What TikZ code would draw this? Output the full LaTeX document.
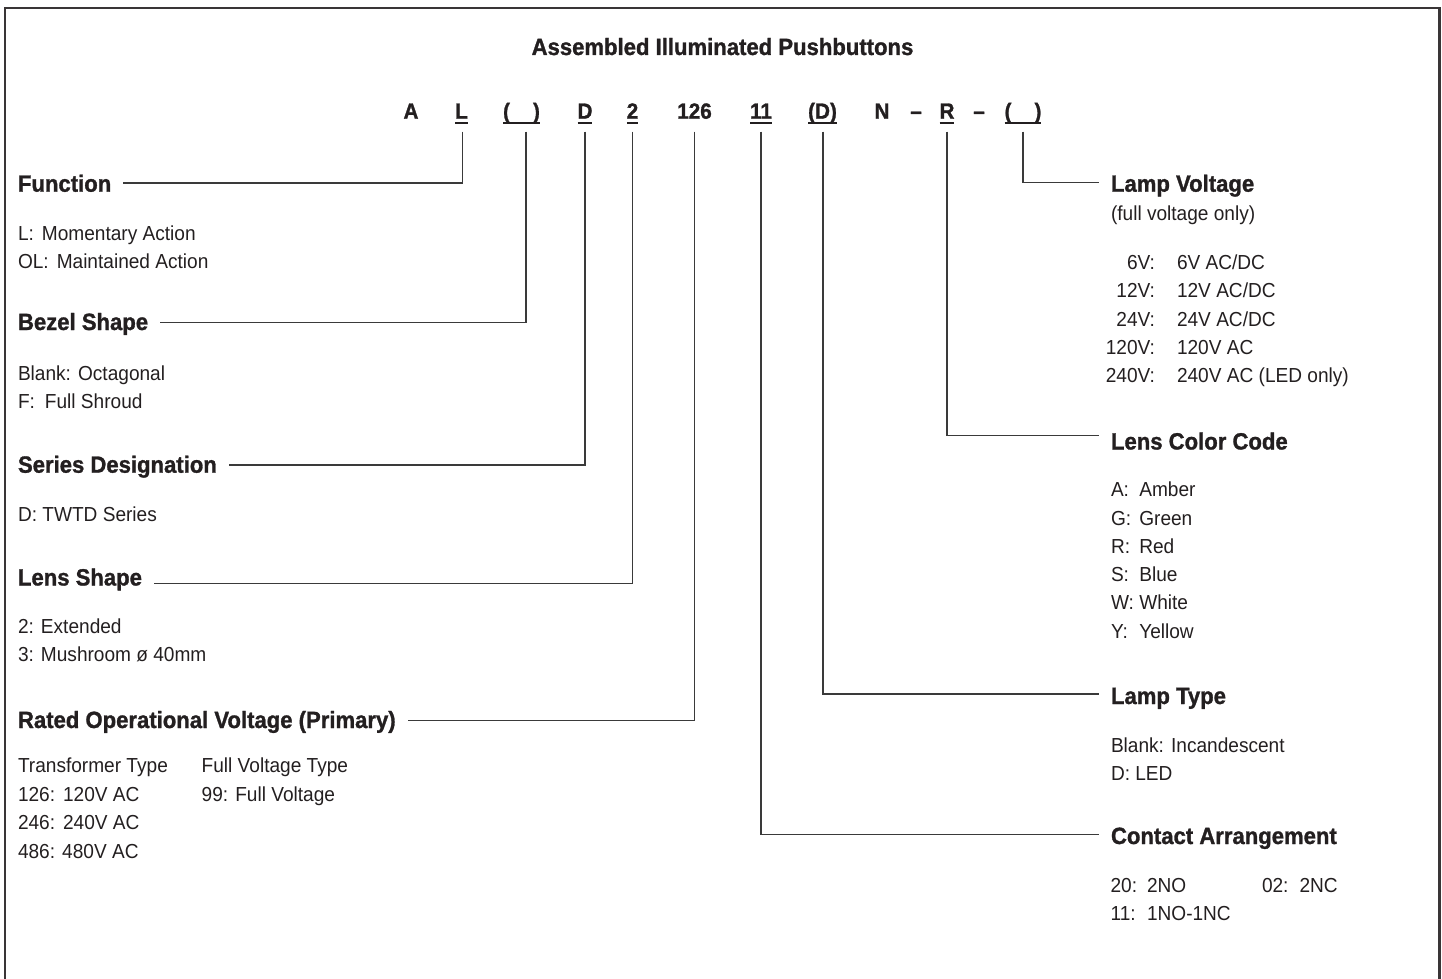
\documentclass[tikz,border=0pt]{standalone}
\usepackage{fontspec}
\setmainfont{Liberation Sans}[FakeStretch=0.94,BoldFeatures={FakeBold=1.2}]
\definecolor{ink}{HTML}{231F20}
\definecolor{rule}{HTML}{3A3A3A}
\begin{document}
\begin{tikzpicture}[x=1pt,y=-1pt,
  every node/.style={inner sep=0pt,outer sep=0pt,text=ink},
  hd/.style={font=\fontsize{23.5}{28}\selectfont\bfseries,anchor=base west},
  bd/.style={font=\fontsize{20.3}{28}\selectfont,anchor=base west},
  bdr/.style={font=\fontsize{20.3}{28}\selectfont,anchor=base east},
  cd/.style={font=\fontsize{22}{26}\selectfont\bfseries,anchor=base},
  ln/.style={line width=1.4pt,draw=rule},
  ul/.style={line width=1.7pt,draw=ink},
  frame/.style={line width=2.3pt,draw=ink!90}]
\useasboundingbox (0,0) rectangle (1442,979);
% frame (open at the bottom edge of the page)
\draw[frame] (5,990) -- (5,8.3) -- (1439.5,8.3) -- (1439.5,990);
% title
\node[hd,anchor=base] (title) at (722.5,55) {Assembled Illuminated Pushbuttons};
% code row
\node[cd] (cA) at (411,118.7) {A};
\node[cd] (cL) at (461.5,118.7) {L};
\node[cd] (cB) at (521.5,118.7) {(\hspace{23pt})};
\node[cd] (cD) at (585,118.7) {D};
\node[cd] (c2) at (632.5,118.7) {2};
\node[cd] (cV1) at (694.5,118.7) {126};
\node[cd] (c11) at (761,118.7) {11};
\node[cd] (cLD) at (822.5,118.7) {(D)};
\node[cd] (cN) at (882,118.7) {N};
\node[cd] (cd1) at (916,118.7) {–};
\node[cd] (cR) at (947,118.7) {R};
\node[cd] (cd2) at (979,118.7) {–};
\node[cd] (cLV) at (1023,118.7) {(\hspace{23pt})};
\foreach \n in {cL,cB,cD,c2,c11,cLD,cR,cLV}
  \draw[ul] ([yshift=-4.6pt]\n.base west) -- ([yshift=-4.6pt]\n.base east);
% left headings
\node[hd] (fn) at (18,191.7) {Function};
\node[hd] (bz) at (18,330) {Bezel Shape};
\node[hd] (sd) at (18,472.7) {Series Designation};
\node[hd] (ls) at (18,585.5) {Lens Shape};
\node[hd] (rv) at (18,728) {Rated Operational Voltage (Primary)};
% left bodies
\node[bd] (fn1) at (18,240) {L:\hspace{8pt}Momentary Action};
\node[bd] (fn2) at (18,268.5) {OL:\hspace{8pt}Maintained Action};
\node[bd] (bz1) at (18,380) {Blank: Octagonal};
\node[bd] (bz2) at (18,408.5) {F:\hspace{10pt}Full Shroud};
\node[bd] (sd1) at (18,521) {D: TWTD Series};
\node[bd] (ls1) at (18,633) {2: Extended};
\node[bd] (ls2) at (18,661.5) {3: Mushroom ø 40mm};
\node[bd] (rv1) at (18,772.5) {Transformer Type};
\node[bd] (rv2) at (18,801) {126:\hspace{8pt}120V AC};
\node[bd] (rv3) at (18,829.5) {246:\hspace{8pt}240V AC};
\node[bd] (rv4) at (18,858) {486: 480V AC};
\node[bd] (rv5) at (201.7,772.5) {Full Voltage Type};
\node[bd] (rv6) at (201.7,801) {99: Full Voltage};
% right headings
\node[hd] (lv) at (1111,191.7) {Lamp Voltage};
\node[hd] (lc) at (1111,449.5) {Lens Color Code};
\node[hd] (lt) at (1111,704) {Lamp Type};
\node[hd] (ca) at (1111,844) {Contact Arrangement};
% lamp voltage list
\node[bd] (lv0) at (1111,220) {(full voltage only)};
\foreach \k/\v [count=\i from 0] in {6V:/6V AC\slash DC,12V:/12V AC\slash DC,24V:/24V AC\slash DC,120V:/120V AC,240V:/240V AC (LED only)}{
  \node[bdr] (lvk\i) at (1155,269.3+28.35*\i) {\k};
  \node[bd] (lvv\i) at (1177,269.3+28.35*\i) {\v};
}
% lens colour list
\foreach \k/\v [count=\i from 0] in {A:/Amber,G:/Green,R:/Red,S:/Blue,W:/White,Y:/Yellow}{
  \node[bd] (lck\i) at (1111,496.7+28.3*\i) {\k};
  \node[bd] (lcv\i) at (1139.3,496.7+28.3*\i) {\v};
}
% lamp type
\node[bd] (lt1) at (1111,752.3) {Blank: Incandescent};
\node[bd] (lt2) at (1111,780.5) {D: LED};
% contact arrangement
\node[bd] (ca1) at (1110.6,892.3) {20:};
\node[bd] (ca2) at (1147,892.3) {2NO};
\node[bd] (ca3) at (1262,892.3) {02:};
\node[bd] (ca4) at (1299.5,892.3) {2NC};
\node[bd] (ca5) at (1110.6,920.7) {11:};
\node[bd] (ca6) at (1147,920.7) {1NO-1NC};
% connectors, left
\draw[ln] ([xshift=1pt,yshift=-13pt]cL.base) |- ([xshift=12pt,yshift=8.7pt]fn.base east);
\draw[ln] ([xshift=4.5pt,yshift=-13pt]cB.base) |- ([xshift=12pt,yshift=7.3pt]bz.base east);
\draw[ln] ([yshift=-13pt]cD.base) |- ([xshift=12pt,yshift=7.7pt]sd.base east);
\draw[ln] ([yshift=-13pt]c2.base) |- ([xshift=12pt,yshift=2.2pt]ls.base east);
\draw[ln] ([yshift=-13pt]cV1.base) |- ([xshift=12pt,yshift=7.5pt]rv.base east);
% connectors, right
\draw[ln] ([yshift=-13pt]cLV.base) |- ([xshift=-12pt,yshift=9pt]lv.base west);
\draw[ln] ([yshift=-13pt]cR.base) |- ([xshift=-12pt,yshift=14pt]lc.base west);
\draw[ln] ([xshift=0.5pt,yshift=-13pt]cLD.base) |- ([xshift=-12pt,yshift=10pt]lt.base west);
\draw[ln] ([yshift=-13pt]c11.base) |- ([xshift=-12pt,yshift=9.7pt]ca.base west);
\end{tikzpicture}
\end{document}
